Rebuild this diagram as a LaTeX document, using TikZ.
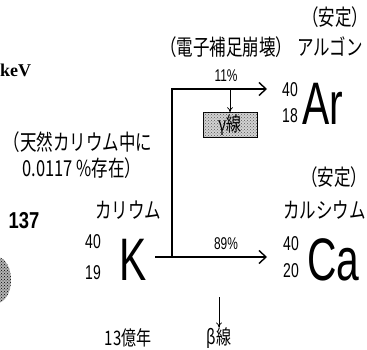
\documentclass[tikz,border=0pt]{standalone}
\usepackage{fontspec}
\usetikzlibrary{arrows.meta,patterns}
\newfontfamily\jpfont[FakeStretch=0.75]{Noto Sans CJK JP}
\newfontfamily\elemfont[FakeStretch=0.68]{Liberation Sans}
\newfontfamily\numfont[FakeStretch=0.7]{Liberation Sans}
\newfontfamily\boldfont[FakeStretch=0.8]{Liberation Sans}
\newfontfamily\serifbold{Liberation Serif}
\begin{document}
\begin{tikzpicture}[x=1pt,y=-1pt,
  jp/.style={font=\jpfont\fontsize{22}{24}\selectfont, inner sep=0pt},
  jpsmall/.style={font=\jpfont\fontsize{20}{22}\selectfont, inner sep=0pt},
  elem/.style={font=\elemfont\fontsize{60}{60}\selectfont, inner sep=0pt},
  iso/.style={font=\numfont\fontsize{20}{20}\selectfont, inner sep=0pt},
  pct/.style={font=\numfont\fontsize{17}{17}\selectfont, inner sep=0pt},
  decayline/.style={line width=2pt, line join=miter,
    -{Straight Barb[length=7pt,width=13pt,line width=1.4pt]}},
  emit/.style={line width=0.8pt, -{To[length=5pt,width=6pt]}},
  gbox/.style={draw=black, line width=0.7pt, fill=gray!35,
    postaction={pattern=crosshatch dots, pattern color=gray!70!black},
    minimum width=54pt, minimum height=25pt, inner sep=0pt,
    font=\jpfont\fontsize{20}{22}\selectfont}]
\useasboundingbox (0,0) rectangle (367,350);
\clip (0,0) rectangle (367,350);

% fragments at the left edge
\node[anchor=west, inner sep=0pt, font=\serifbold\bfseries\fontsize{18}{18}\selectfont] (kev) at (0,70) {keV};
\node[inner sep=0pt, font=\boldfont\bfseries\fontsize{23}{23}\selectfont] (n137) at (24,221) {137};
\fill[gray!60, postaction={pattern=crosshatch dots, pattern color=black}] (-3,280) ellipse (14 and 23);

% potassium
\node[jp] (natural) at (78,142) {（天然カリウム中に};
\node[jp] (abund) at (82,168) {0.0117 \%存在）};
\node[jp] (kname) at (128,210) {カリウム};
\node[elem] (K) at (133,260) {K};
\node[iso, anchor=east] (KA) at (101,242) {40};
\node[iso, anchor=east] (KZ) at (101,273) {19};
\node[jpsmall] (halflife) at (128,338) {13億年};

% argon
\node[jp] (stabAr) at (335,17) {（安定）};
\node[jp, anchor=west] (ec) at (160,47) {（電子補足崩壊）};
\node[jp, anchor=west] (arname) at (297,47) {アルゴン};
\node[elem, anchor=west] (Ar) at (302,104) {Ar};
\node[iso, anchor=east] (ArA) at (298,90) {40};
\node[iso, anchor=east] (ArZ) at (298,116) {18};

% calcium
\node[jp] (stabCa) at (334,177) {（安定）};
\node[jp, anchor=west] (caname) at (283,210) {カルシウム};
\node[elem, anchor=west] (Ca) at (307,260) {Ca};
\node[iso, anchor=east] (CaA) at (299,244) {40};
\node[iso, anchor=east] (CaZ) at (299,271) {20};

% decay branches
\coordinate (Kout) at (155,257);
\coordinate (branch) at (172,257);
\coordinate (corner) at (172,89);
\coordinate (tipAr) at (267,89);
\coordinate (tipCa) at (267,257);
\draw[decayline] (Kout) -- (tipCa);
\draw[decayline] (branch) -- (corner) -- (tipAr);
\node[pct] (p11) at (226,76) {11\%};
\node[pct] (p89) at (226,244) {89\%};

% emitted radiation
\node[gbox] (gamma) at (230,125) {γ線};
\draw[emit] (gamma.north |- corner) -- (gamma.north);
\node[jpsmall] (beta) at (219,338) {β線};
\coordinate (betatop) at (219,297);
\draw[emit] (betatop) -- (beta.north);
\end{tikzpicture}
\end{document}
